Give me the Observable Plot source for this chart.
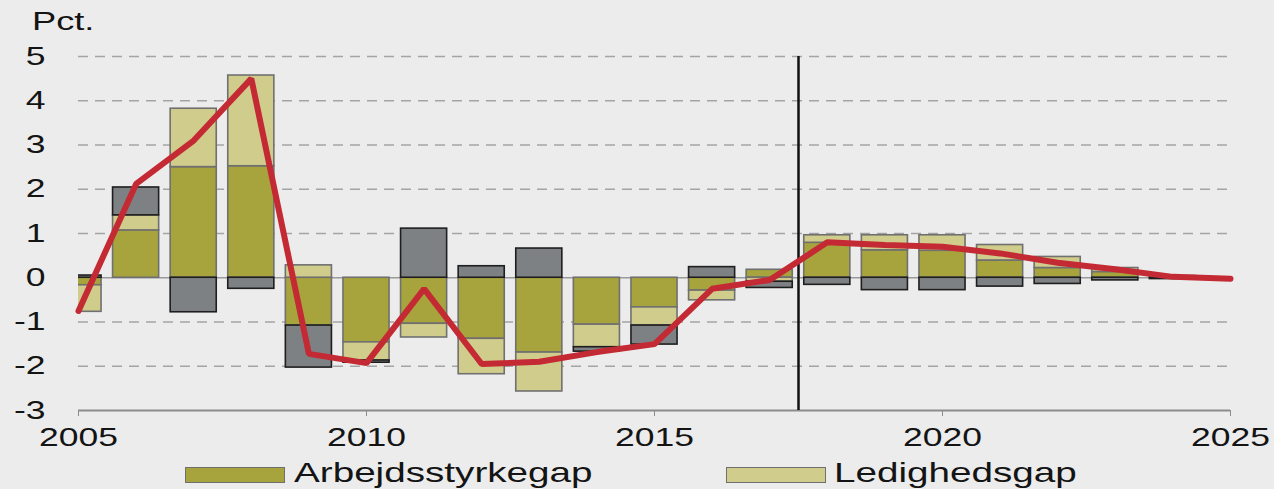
<!DOCTYPE html>
<html>
<head>
<meta charset="utf-8">
<script src="https://cdn.jsdelivr.net/npm/d3@7"></script>
<script src="https://cdn.jsdelivr.net/npm/@observablehq/plot@0.6"></script>
<style>
  html, body { margin: 0; padding: 0; background: #ececec; }
  #wrap { position: relative; width: 1274px; height: 489px; overflow: hidden; background: #ececec; font-family: "Liberation Sans", Arial, sans-serif; color: #141414; }
  #wrap svg text { fill: #141414; }
  .unit { position: absolute; left: 32px; top: 9px; font-size: 25px; line-height: 25px; transform: scaleX(1.45); transform-origin: left center; white-space: nowrap; }
  .sw { position: absolute; width: 98px; height: 14px; border: 1.5px solid #6f6f6f; }
  .lt { position: absolute; font-size: 28px; line-height: 28px; transform: scaleX(1.38); transform-origin: left center; white-space: nowrap; }
</style>
</head>
<body>
<div id="wrap"></div>
<script>
// ---- data ----
const years = [2005,2006,2007,2008,2009,2010,2011,2012,2013,2014,2015,2016,2017,2018,2019,2020,2021,2022,2023,2024];
const seriesNames = ["Arbejdsstyrkegap", "Ledighedsgap", "Øvrigt gap"];
const arbejdsstyrkegap = [-0.17,1.07,2.50,2.52,-1.08,-1.46,-1.04,-1.38,-1.69,-1.06,-0.67,-0.29,0.18,0.79,0.62,0.61,0.39,0.22,0.13,0.02];
const ledighedsgap     = [-0.60,0.34,1.32,2.05,0.28,-0.41,-0.31,-0.80,-0.88,-0.51,-0.41,-0.22,-0.09,0.17,0.34,0.35,0.35,0.25,0.09,0.02];
const oevrigtGap       = [0.05,0.63,-0.78,-0.25,-0.95,-0.05,1.11,0.26,0.66,-0.10,-0.43,0.24,-0.14,-0.16,-0.28,-0.28,-0.20,-0.14,-0.06,-0.03];
const lineYears = [2005,2006,2007,2008,2009,2010,2011,2012,2013,2014,2015,2016,2017,2018,2019,2020,2021,2022,2023,2024,2025];
const outputGap = [-0.75,2.12,3.10,4.50,-1.72,-1.93,-0.25,-1.95,-1.90,-1.68,-1.50,-0.25,-0.05,0.80,0.74,0.70,0.55,0.34,0.19,0.02,-0.02];
const forecastStart = [2017.5];
const xTicks = [2005,2010,2015,2020,2025];
const yTicks = [-3,-2,-1,0,1,2,3,4,5];
const gridLines = [-2,-1,1,2,3,4,5];
const fillColors = ["#a8a43d", "#d0cc8c", "#7e8184"];
const strokeColors = ["#707070", "#707070", "#1e1e1e"];
const lineColor = "#c42a33";

// ---- table for the stacked bars ----
const seriesValues = [arbejdsstyrkegap, ledighedsgap, oevrigtGap];
const bars = [];
years.forEach((yr, i) => {
  seriesNames.forEach((s, k) => bars.push({year: yr, series: s, k, value: seriesValues[k][i]}));
});
const lineData = lineYears.map((yr, i) => ({year: yr, value: outputGap[i]}));

const chart = Plot.plot({
  width: 1274,
  height: 489,
  marginLeft: 78,
  marginRight: 44,
  marginTop: 56,
  marginBottom: 79,
  style: {background: "transparent", fontFamily: "'Liberation Sans', Arial, sans-serif", fontSize: "25px", color: "#8c8c8c"},
  x: {domain: [2005, 2025], ticks: xTicks, tickFormat: d => String(d), tickSize: 6, tickPadding: 12, label: null},
  y: {domain: [-3, 5], ticks: yTicks, tickFormat: d => String(d), tickSize: 0, tickPadding: 33, label: null},
  color: {type: "identity"},
  marks: [
    Plot.ruleY(gridLines, {stroke: "#a4a4a4", strokeWidth: 1.6, strokeDasharray: "10,7"}),
    Plot.ruleY([0], {stroke: "#9a9a9a", strokeWidth: 1.6}),
    Plot.rectY(bars, {
      x1: d => d.year - 0.4,
      x2: d => d.year + 0.4,
      y: "value",
      z: "series",
      fill: d => fillColors[d.k],
      stroke: d => strokeColors[d.k],
      strokeWidth: 1.6,
      clip: true
    }),
    Plot.ruleY([-3], {stroke: "#8c8c8c", strokeWidth: 2}),
    Plot.ruleX(forecastStart, {stroke: "#111", strokeWidth: 2.5}),
    Plot.line(lineData, {x: "year", y: "value", stroke: lineColor, strokeWidth: 6, strokeLinejoin: "miter"})
  ]
});

const wrap = document.getElementById("wrap");
wrap.appendChild(chart);

// stretch tick texts horizontally like the reference, keeping Plot's own placement
const SX = 1.42;
chart.querySelectorAll("text").forEach(t => {
  const a = getComputedStyle(t).textAnchor;
  const b = t.getBBox();
  const ox = a === "end" ? b.x + b.width : (a === "middle" ? b.x + b.width / 2 : b.x);
  const tr = t.getAttribute("transform") || "";
  t.setAttribute("transform", `${tr} translate(${ox},0) scale(${SX},1) translate(${-ox},0)`.trim());
});

// unit label
const unit = document.createElement("div");
unit.className = "unit";
unit.textContent = "Pct.";
wrap.appendChild(unit);

// legend (two visible entries)
const legendItems = [
  {name: seriesNames[0], color: fillColors[0], sx: 185, tx: 294},
  {name: seriesNames[1], color: fillColors[1], sx: 726, tx: 834}
];
legendItems.forEach(it => {
  const sw = document.createElement("div");
  sw.className = "sw";
  sw.style.left = it.sx + "px";
  sw.style.top = "467px";
  sw.style.background = it.color;
  wrap.appendChild(sw);
  const lt = document.createElement("div");
  lt.className = "lt";
  lt.style.left = it.tx + "px";
  lt.style.top = "459px";
  lt.textContent = it.name;
  wrap.appendChild(lt);
});
</script>
</body>
</html>
